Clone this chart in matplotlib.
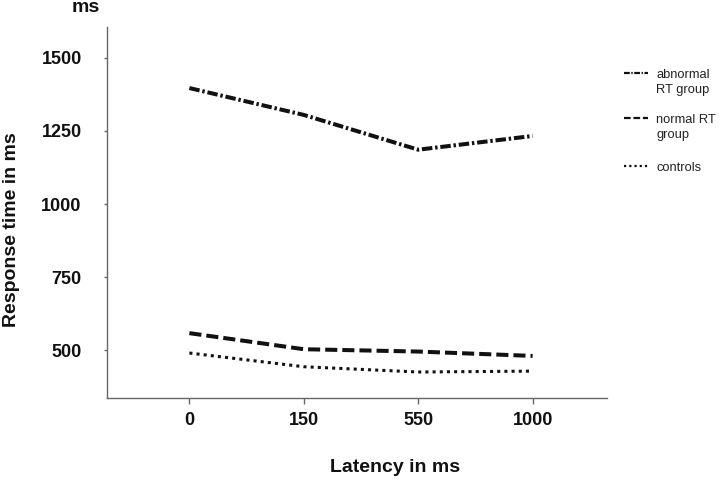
import matplotlib
matplotlib.use("Agg")
import matplotlib.pyplot as plt

plt.rcParams['font.family'] = ['Liberation Sans', 'DejaVu Sans']

latency = ["0", "150", "550", "1000"]
abnormal_rt = [1397, 1305, 1186, 1233]
normal_rt = [558, 503, 495, 480]
controls = [490, 443, 425, 428]
yticks = [500, 750, 1000, 1250, 1500]
legend_first = ['abnormal', 'normal RT', 'controls']
legend_second = ['RT group', 'group', '']

W, H = 720, 480
fig = plt.figure(figsize=(7.2, 4.8), dpi=100)
ax = fig.add_axes([107 / W, 1 - 398 / H, (607 - 107) / W, (398 - 27) / H])
x = list(range(len(latency)))
ink = '#111111'
l1, = ax.plot(x, abnormal_rt, color=ink, lw=2.9, dashes=(2.6, 0.7, 0.6, 0.7),
              dash_capstyle='butt')
l2, = ax.plot(x, normal_rt, color=ink, lw=2.9, dashes=(3.0, 1.25),
              dash_capstyle='butt')
l3, = ax.plot(x, controls, color=ink, lw=2.2, dashes=(1.0, 1.35),
              dash_capstyle='butt')

ax.set_xlim(-0.72, 3.65)
ax.set_ylim(336, 1606)
ax.set_xticks(x)
ax.set_xticklabels(latency)
ax.set_yticks(yticks)
for s in ['top', 'right']:
    ax.spines[s].set_visible(False)
for s in ['left', 'bottom']:
    ax.spines[s].set_color('#666666')
    ax.spines[s].set_linewidth(1.0)
ax.tick_params(axis='both', colors='#666666', width=1.0, direction='out',
               labelsize=13, labelcolor=ink)
ax.tick_params(axis='y', length=2.2, pad=16)
ax.tick_params(axis='x', length=4.3, pad=5.5)
for lab in ax.get_xticklabels() + ax.get_yticklabels():
    lab.set_fontweight('bold')

fig.text(12 / W, 1 - 230 / H, 'Response time in ms', fontsize=14, fontweight='bold',
         color=ink, ha='center', va='center', rotation=90)
fig.text(395 / W, 1 - 468 / H, 'Latency in ms', fontsize=14, fontweight='bold',
         color=ink, ha='center', va='center')
fig.text(86 / W, 1 - 7 / H, 'ms', fontsize=14, fontweight='bold', color=ink,
         ha='center', va='center')

# legend: one entry per legend box so that each row sits where the reference has it
row_y = [75, 120, 168]
legs = []
for line, first, y in zip([l1, l2, l3], legend_first, row_y):
    lg = fig.legend(handles=[line], labels=[first], loc='center left',
                    bbox_to_anchor=(624 / W, 1 - y / H), frameon=False,
                    fontsize=9.3, handlelength=1.86, handletextpad=0.62,
                    borderaxespad=0, borderpad=0)
    for hl in lg.get_lines():
        hl.set_linewidth(1.6)
    for t in lg.get_texts():
        t.set_color('#222222')
    legs.append(lg)

fig.canvas.draw()
renderer = fig.canvas.get_renderer()
inv = fig.transFigure.inverted()
for lg, extra in zip(legs, legend_second):
    if not extra:
        continue
    t = lg.get_texts()[0]
    bb = t.get_window_extent(renderer)
    x0, y0 = inv.transform((bb.x0, bb.y0))
    fig.text(x0, y0 - 15 / H, extra, fontsize=9.3, color='#222222',
             ha='left', va='bottom')

fig.savefig('out.png', dpi=100)
